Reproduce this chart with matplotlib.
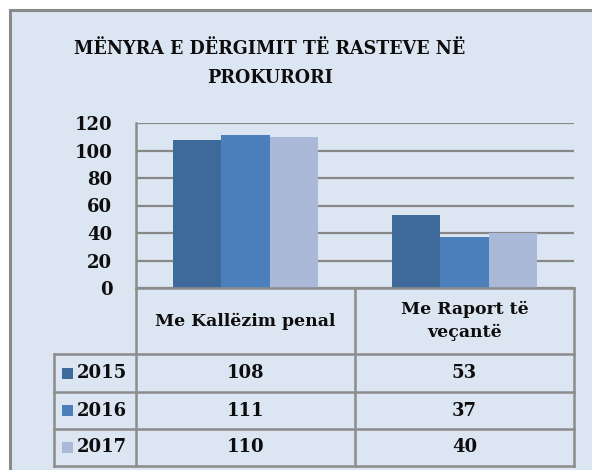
import matplotlib
matplotlib.use("Agg")
import matplotlib.pyplot as plt
from matplotlib.patches import Rectangle
from matplotlib.lines import Line2D
from matplotlib import font_manager

# ---- data ----
categories = ["Me Kallëzim penal", "Me Raport të\nveçantë"]
years = ["2015", "2016", "2017"]
values_2015 = [108, 53]
values_2016 = [111, 37]
values_2017 = [110, 40]
series = [values_2015, values_2016, values_2017]
colors = ["#3E6A9B", "#4C80BD", "#AAB9D7"]
yticks = [0, 20, 40, 60, 80, 100, 120]
title_lines = ["MËNYRA E DËRGIMIT TË RASTEVE NË", "PROKURORI"]

W, H = 592, 470
BG = "#DCE6F2"
GRID = "#878787"
LINE = "#8C8C8C"
FONT = "DejaVu Serif"
TXT = "#0D0D0D"

# condensed variant for the title if installed
try:
    fp = font_manager.FontProperties(family=FONT, weight="bold", stretch="condensed")
    path = font_manager.findfont(fp, fallback_to_default=False)
    has_cond = "ondensed" in path
except Exception:
    has_cond = False

fig = plt.figure(figsize=(W / 100, H / 100), dpi=100)
fig.patch.set_facecolor("white")


def fx(px):
    return px / W


def fy(py):
    return 1 - py / H


# outer chart area (top-left frame visible, rest cropped)
fig.add_artist(Rectangle((fx(9), fy(H + 20)), fx(W + 20), (H + 11) / H,
                         transform=fig.transFigure, facecolor=BG,
                         edgecolor="none", zorder=0))
fig.add_artist(Line2D([fx(9.5), fx(W + 5)], [fy(9.5), fy(9.5)], transform=fig.transFigure,
                      color="#8A8A8A", linewidth=2.2, zorder=1))
fig.add_artist(Line2D([fx(9.5), fx(9.5)], [fy(9.5), fy(H + 5)], transform=fig.transFigure,
                      color="#8A8A8A", linewidth=2.2, zorder=1))

# title
tkw = dict(ha="center", va="baseline", fontweight="bold", family=FONT, color=TXT)
if has_cond:
    tkw.update(fontsize=14.0, fontstretch="condensed")
else:
    tkw.update(fontsize=12.6)
fig.text(fx(270), fy(54), title_lines[0], **tkw)
fig.text(fx(270), fy(83), title_lines[1], **tkw)

# plot area
left, right, top, bottom = 136, 574, 123, 288
ax = fig.add_axes([fx(left), fy(bottom), fx(right - left), (bottom - top) / H])
ax.set_facecolor("none")
ax.set_ylim(0, 120)
ax.set_xlim(-0.5, len(categories) - 0.5)
bw = 0.2205
for i, (vals, c) in enumerate(zip(series, colors)):
    xs = [k + (i - 1) * bw for k in range(len(categories))]
    ax.bar(xs, vals, width=bw, color=c, zorder=3, linewidth=0)
ax.set_yticks(yticks)
ax.set_yticklabels([str(t) for t in yticks], fontsize=13, fontweight="bold",
                   family=FONT, color=TXT)
ax.tick_params(axis="y", length=0, pad=17)
ax.set_xticks([])
ax.grid(axis="y", color=GRID, linewidth=1.6, zorder=0)
for s in ["top", "right", "bottom"]:
    ax.spines[s].set_visible(False)
ax.spines["left"].set_color(LINE)
ax.spines["left"].set_linewidth(1.8)

# data table
col_x = [54, 136, 355, 574]
row_y = [288, 354, 392, 429, 466]


def hline(y, x0, x1):
    fig.add_artist(Line2D([fx(x0), fx(x1)], [fy(y), fy(y)], transform=fig.transFigure,
                          color=LINE, linewidth=1.8, zorder=5))


def vline(x, y0, y1):
    fig.add_artist(Line2D([fx(x), fx(x)], [fy(y0), fy(y1)], transform=fig.transFigure,
                          color=LINE, linewidth=1.8, zorder=5))


hline(row_y[0], col_x[1], col_x[3])
for y in row_y[1:]:
    hline(y, col_x[0], col_x[3])
for x in col_x[1:]:
    vline(x, row_y[0], row_y[-1])
vline(col_x[0], row_y[1], row_y[-1])

# header
for j, cat in enumerate(categories):
    cx = (col_x[j + 1] + col_x[j + 2]) / 2
    cy = (row_y[0] + row_y[1]) / 2
    fig.text(fx(cx), fy(cy), cat, ha="center", va="center", fontsize=12.4,
             fontweight="bold", family=FONT, color=TXT, linespacing=1.45)

# rows
for i, (yr, vals, c) in enumerate(zip(years, series, colors)):
    cy = (row_y[i + 1] + row_y[i + 2]) / 2
    fig.add_artist(Rectangle((fx(62), fy(cy + 5.5)), fx(11), 11 / H,
                             transform=fig.transFigure, facecolor=c,
                             edgecolor="none", zorder=6))
    fig.text(fx(77), fy(cy), yr, ha="left", va="center", fontsize=13,
             fontweight="bold", family=FONT, color=TXT)
    for j, v in enumerate(vals):
        cx = (col_x[j + 1] + col_x[j + 2]) / 2
        fig.text(fx(cx), fy(cy), str(v), ha="center", va="center", fontsize=13,
                 fontweight="bold", family=FONT, color=TXT)

fig.savefig("out.png", dpi=100, facecolor=fig.get_facecolor())
